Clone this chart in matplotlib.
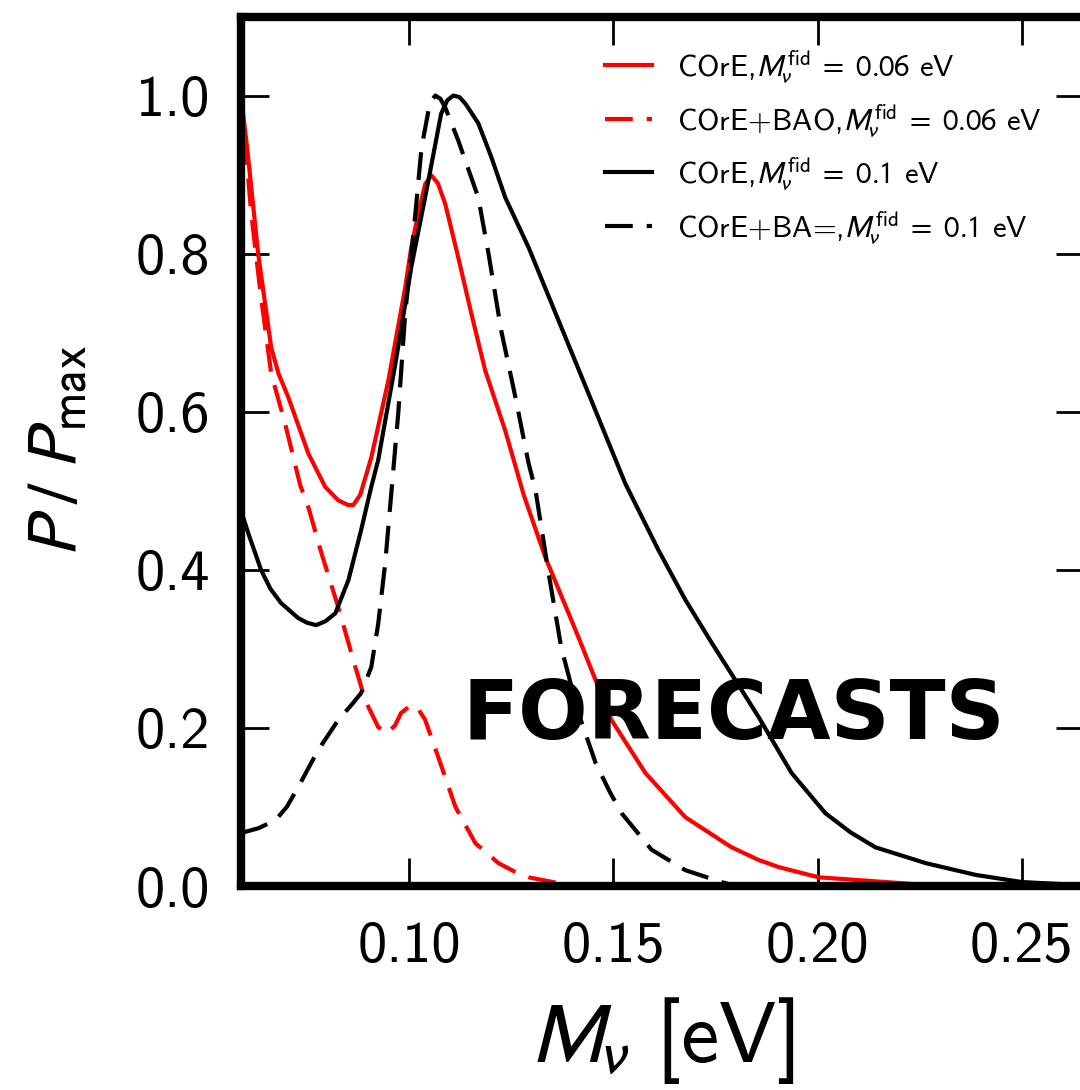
import numpy as np
import matplotlib
matplotlib.use("Agg")
import matplotlib.pyplot as plt

plt.rcParams['font.family'] = ['cmss10', 'DejaVu Sans']
plt.rcParams['mathtext.fontset'] = 'stixsans'
plt.rcParams['axes.formatter.use_mathtext'] = False
plt.rcParams['lines.scale_dashes'] = False

# COrE, M_nu^fid = 0.06 eV
x_core06 = [0.0588, 0.0603, 0.0630, 0.0662, 0.0680, 0.0704, 0.0753, 0.0794, 0.0826,
            0.0850, 0.0863, 0.0880, 0.0907, 0.0949, 0.0990, 0.1005, 0.1022, 0.1039,
            0.1054, 0.1070, 0.1088, 0.1120, 0.1152, 0.1186, 0.1235, 0.1280, 0.1333,
            0.1414, 0.1495, 0.1578, 0.1676, 0.1789, 0.1855, 0.1904, 0.2002, 0.2222,
            0.2300]
y_core06 = [1.000, 0.934, 0.800, 0.681, 0.648, 0.618, 0.547, 0.505, 0.488,
            0.482, 0.482, 0.495, 0.542, 0.640, 0.757, 0.808, 0.851, 0.888,
            0.899, 0.889, 0.863, 0.795, 0.724, 0.652, 0.576, 0.495, 0.416,
            0.315, 0.210, 0.143, 0.087, 0.049, 0.033, 0.024, 0.011, 0.003,
            0.000]

# COrE+BAO, M_nu^fid = 0.06 eV
x_bao06 = [0.0588, 0.0600, 0.0613, 0.0637, 0.0662, 0.0696, 0.0733, 0.0753, 0.0785,
           0.0826, 0.0863, 0.0892, 0.0924, 0.0944, 0.0965, 0.0980, 0.1005, 0.1022,
           0.1039, 0.1071, 0.1113, 0.1162, 0.1194, 0.1218, 0.1255, 0.1292, 0.1372,
           0.1420]
y_bao06 = [1.000, 0.930, 0.851, 0.745, 0.648, 0.585, 0.507, 0.479, 0.421,
           0.353, 0.286, 0.235, 0.201, 0.193, 0.203, 0.219, 0.229, 0.224,
           0.210, 0.163, 0.100, 0.054, 0.040, 0.029, 0.019, 0.011, 0.003,
           0.000]

# COrE, M_nu^fid = 0.1 eV
x_core10 = [0.0588, 0.0606, 0.0637, 0.0660, 0.0686, 0.0728, 0.0750, 0.0772, 0.0795,
            0.0819, 0.0851, 0.0882, 0.0907, 0.0924, 0.0966, 0.1005, 0.1047, 0.1078,
            0.1093, 0.1108, 0.1123, 0.1137, 0.1169, 0.1201, 0.1235, 0.1292, 0.1365,
            0.1446, 0.1529, 0.1610, 0.1676, 0.1740, 0.1799, 0.1855, 0.1936, 0.2019,
            0.2080, 0.2141, 0.2264, 0.2387, 0.2500, 0.2650]
y_core10 = [0.475, 0.446, 0.400, 0.376, 0.358, 0.339, 0.333, 0.330, 0.335,
            0.345, 0.387, 0.450, 0.505, 0.539, 0.661, 0.783, 0.893, 0.977,
            0.994, 1.000, 0.998, 0.990, 0.965, 0.922, 0.871, 0.808, 0.716,
            0.614, 0.509, 0.425, 0.362, 0.308, 0.260, 0.214, 0.143, 0.092,
            0.068, 0.049, 0.029, 0.014, 0.005, 0.001]

# COrE+BAO, M_nu^fid = 0.1 eV
x_bao10 = [0.0588, 0.0630, 0.0672, 0.0700, 0.0728, 0.0777, 0.0826, 0.0860, 0.0882,
           0.0907, 0.0924, 0.0941, 0.0956, 0.0973, 0.0990, 0.1015, 0.1030, 0.1047,
           0.1056, 0.1064, 0.1076, 0.1088, 0.1120, 0.1169, 0.1194, 0.1225, 0.1260,
           0.1292, 0.1309, 0.1341, 0.1372, 0.1414, 0.1456, 0.1490, 0.1520, 0.1593,
           0.1676, 0.1764, 0.1800]
y_bao10 = [0.067, 0.073, 0.083, 0.100, 0.125, 0.172, 0.210, 0.230, 0.244,
           0.277, 0.332, 0.408, 0.497, 0.598, 0.724, 0.851, 0.934, 0.981,
           0.995, 1.000, 0.996, 0.985, 0.943, 0.871, 0.800, 0.703, 0.618,
           0.535, 0.501, 0.396, 0.302, 0.219, 0.156, 0.120, 0.092, 0.046,
           0.020, 0.005, 0.000]

labels = [r'COrE,$M_{\nu}^{\mathrm{fid}}\ =\ 0.06$ eV',
          r'COrE+BAO,$M_{\nu}^{\mathrm{fid}}\ =\ 0.06$ eV',
          r'COrE,$M_{\nu}^{\mathrm{fid}}\ =\ 0.1$ eV',
          r'COrE+BA=,$M_{\nu}^{\mathrm{fid}}\ =\ 0.1$ eV']

xticks = [0.10, 0.15, 0.20, 0.25]
yticks = [0.0, 0.2, 0.4, 0.6, 0.8, 1.0]

fig = plt.figure(figsize=(10.8, 10.9), dpi=100)
ax = fig.add_axes([241 / 1080, 1 - 886 / 1090, (1084 - 241) / 1080, (886 - 16.5) / 1090])

dash = (20, 10)
ax.plot(x_core06, y_core06, color='red', lw=3, label=labels[0])
ax.plot(x_bao06, y_bao06, color='red', lw=3, ls='--', dashes=dash, label=labels[1])
ax.plot(x_core10, y_core10, color='black', lw=3, label=labels[2])
ax.plot(x_bao10, y_bao10, color='black', lw=3, ls='--', dashes=dash, label=labels[3])

ax.set_xlim(0.0588, 0.2652)
ax.set_ylim(0, 1.1)
ax.set_xticks(xticks)
ax.set_xticklabels(['%.2f' % t for t in xticks])
ax.set_yticks(yticks)
ax.set_yticklabels(['%.1f' % t for t in yticks])
ax.tick_params(direction='in', length=20, width=2, labelsize=42, pad=22,
               top=True, right=True)
ax.tick_params(axis='x', pad=25)
for s in ax.spines.values():
    s.set_linewidth(6)

ax.set_xlabel(r'$M_{\nu}$ [eV]', fontsize=62, labelpad=16)
ax.set_ylabel(r'$P\;/\;P_{\mathrm{max}}$', fontsize=52, labelpad=32)

ax.text(0.1794, 0.214, 'FORECASTS', fontsize=59, fontweight='bold',
        family='DejaVu Sans', ha='center', va='center')

ax.legend(loc='upper right', frameon=False, fontsize=22, handlelength=1.55,
          handletextpad=0.8, labelspacing=0.55, bbox_to_anchor=(0.982, 0.995))

fig.savefig('out.png', dpi=100)
